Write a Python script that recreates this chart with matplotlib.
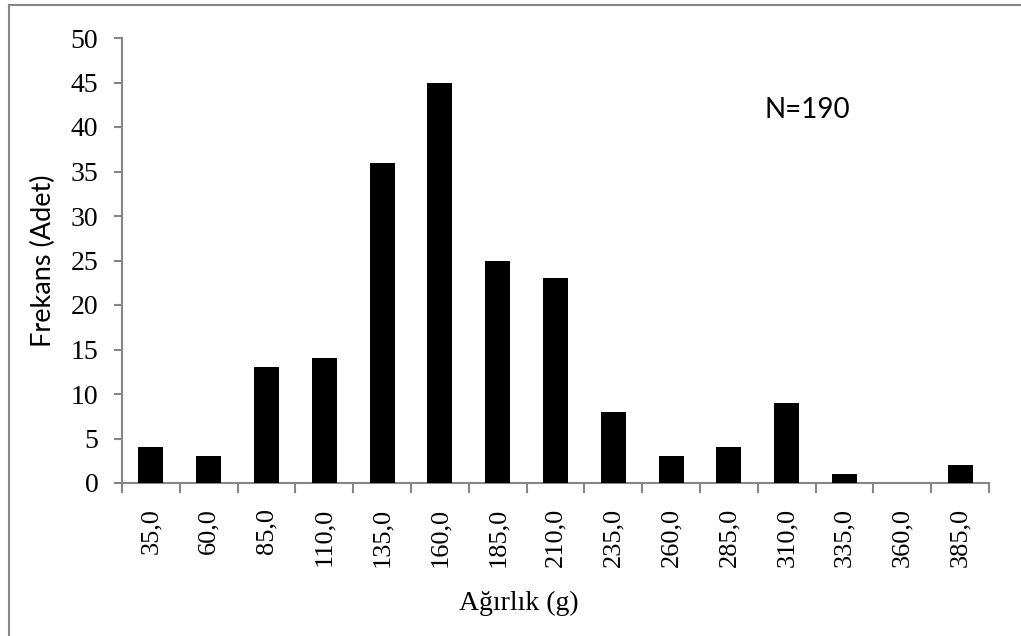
import matplotlib
matplotlib.use("Agg")
import matplotlib.pyplot as plt
from matplotlib.lines import Line2D
import numpy as np

categories = ["35,0", "60,0", "85,0", "110,0", "135,0", "160,0", "185,0", "210,0",
              "235,0", "260,0", "285,0", "310,0", "335,0", "360,0", "385,0"]
frequencies = [4, 3, 13, 14, 36, 45, 25, 23, 8, 3, 4, 9, 1, 0, 2]
y_ticks = [0, 5, 10, 15, 20, 25, 30, 35, 40, 45, 50]

W, H = 1021, 636
fig = plt.figure(figsize=(W / 100, H / 100), dpi=100)
ax = fig.add_axes([122 / W, 1 - 483 / H, (989 - 122) / W, (483 - 38) / H])

gray = "#868686"
serif = "Liberation Serif"
sans = "Lato"

x = np.arange(len(categories))
ax.bar(x, frequencies, width=0.435, color="black", zorder=3)

ax.set_xlim(-0.5, len(categories) - 0.5)
ax.set_ylim(0, 50)
ax.set_yticks(y_ticks)
ax.set_yticklabels([str(v) for v in y_ticks], fontfamily=serif, fontsize=20)
ax.set_xticks(x)
ax.set_xticklabels(categories, rotation=90, fontfamily=serif, fontsize=19,
                   va="top", ha="center")
ax.set_xticks(np.arange(-0.5, len(categories)), minor=True)

ax.tick_params(axis="y", direction="out", length=6, width=1.5, color=gray, pad=11)
ax.tick_params(axis="x", which="major", length=0, pad=18)
ax.tick_params(axis="x", which="minor", direction="out", length=7, width=1.5, color=gray)

for s in ["top", "right"]:
    ax.spines[s].set_visible(False)
for s in ["left", "bottom"]:
    ax.spines[s].set_color(gray)
    ax.spines[s].set_linewidth(1.5)

ax.set_ylabel("Frekans (Adet)", fontfamily=sans, fontsize=19.5)
ax.yaxis.set_label_coords(-(122 - 43) / (989 - 122), 0.5)
ax.yaxis.label.set_va("center")
ax.set_xlabel("Ağırlık (g)", fontfamily=serif, fontsize=20)
ax.xaxis.set_label_coords((519 - 122) / (989 - 122), -(603 - 483) / (483 - 38))
ax.xaxis.label.set_va("center")

fig.text(807 / W, 1 - 110 / H, "N=190", fontfamily=sans, fontsize=20,
         ha="center", va="center")

# outer chart border (top and left edges visible)
fig.add_artist(Line2D([8.5 / W, 1], [1 - 4.5 / H, 1 - 4.5 / H], color=gray, lw=1.5,
                      transform=fig.transFigure))
fig.add_artist(Line2D([8.5 / W, 8.5 / W], [0, 1 - 4.5 / H], color=gray, lw=1.5,
                      transform=fig.transFigure))

fig.savefig("out.png", dpi=100)
